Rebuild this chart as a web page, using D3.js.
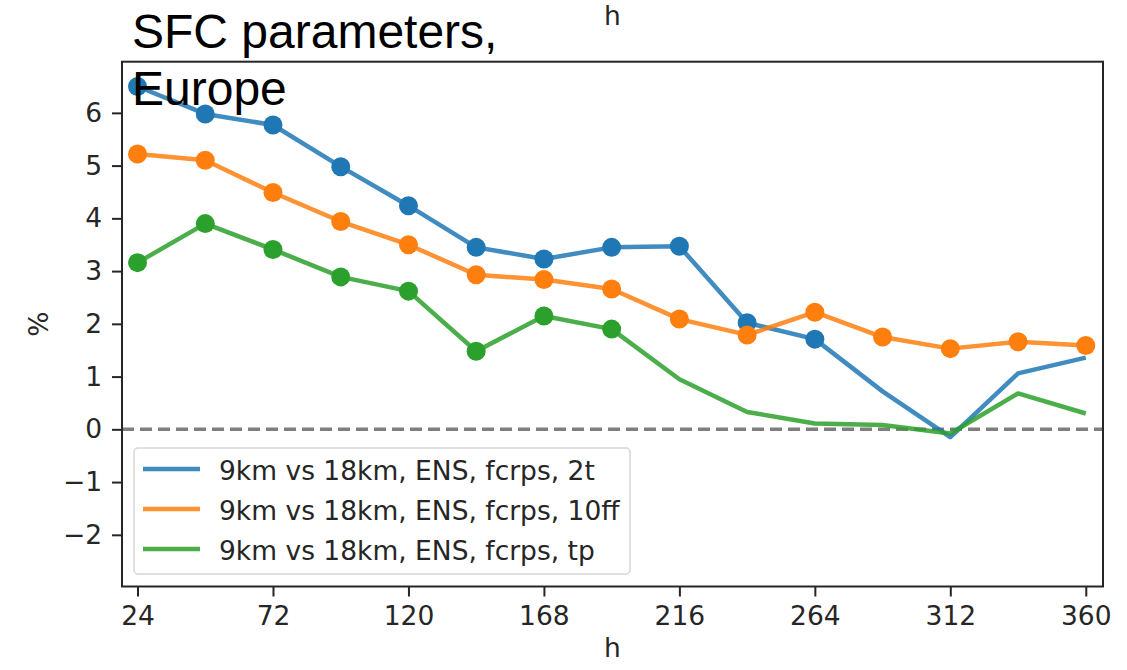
<!DOCTYPE html>
<html>
<head>
<meta charset="utf-8">
<script src="https://cdn.jsdelivr.net/npm/d3@7"></script>
<style>
  html, body { margin: 0; padding: 0; background: #fff; }
  svg { display: block; }
</style>
</head>
<body>
<svg id="chart" width="1127" height="670"></svg>
<script>
// ---- data ----
const hours = [24, 48, 72, 96, 120, 144, 168, 192, 216, 240, 264, 288, 312, 336, 360];
const t2   = [6.50, 5.98, 5.77, 4.98, 4.24, 3.45, 3.23, 3.45, 3.47, 2.02, 1.71, 0.72, -0.15, 1.06, 1.36];
const ff10 = [5.22, 5.10, 4.49, 3.94, 3.50, 2.93, 2.84, 2.66, 2.09, 1.79, 2.22, 1.75, 1.53, 1.66, 1.59];
const tp   = [3.16, 3.90, 3.41, 2.89, 2.62, 1.48, 2.15, 1.90, 0.95, 0.33, 0.11, 0.08, -0.08, 0.68, 0.30];
// markers shown where a point is marked (significant)
const t2Marked   = [1,1,1,1,1,1,1,1,1,1,1,0,0,0,0];
const ff10Marked = [1,1,1,1,1,1,1,1,1,1,1,1,1,1,1];
const tpMarked   = [1,1,1,1,1,1,1,1,0,0,0,0,0,0,0];
const seriesNames = ["9km vs 18km, ENS, fcrps, 2t", "9km vs 18km, ENS, fcrps, 10ff", "9km vs 18km, ENS, fcrps, tp"];
const seriesColors = ["#1f77b4", "#ff7f0e", "#2ca02c"];
const xTicks = [24, 72, 120, 168, 216, 264, 312, 360];
const yTicks = [-2, -1, 0, 1, 2, 3, 4, 5, 6];
const titleLines = ["SFC parameters,", "Europe"];

const series = [
  { name: seriesNames[0], values: t2, marked: t2Marked, color: seriesColors[0] },
  { name: seriesNames[1], values: ff10, marked: ff10Marked, color: seriesColors[1] },
  { name: seriesNames[2], values: tp, marked: tpMarked, color: seriesColors[2] }
];

// ---- layout ----
const L = 122, R = 1103, T = 61.7, B = 586.5;
const svg = d3.select("#chart");
const x = d3.scaleLinear().domain([18.5, 366.1]).range([L, R]);
const y = d3.scaleLinear().domain([-2.98, 6.97]).range([B, T]);
const tickFont = "'DejaVu Sans', sans-serif";
const fs = "26.5px";
const ink = "#262626";

// zero dashed line
svg.append("line")
  .attr("x1", L).attr("x2", R)
  .attr("y1", y(0)).attr("y2", y(0))
  .attr("stroke", "#7f7f7f").attr("stroke-width", 3.5)
  .attr("stroke-dasharray", "12,6");

// series lines and markers
const line = d3.line().x((d, i) => x(hours[i])).y(d => y(d));
const plot = svg.append("g");
series.forEach(s => {
  plot.append("path")
    .datum(s.values)
    .attr("d", line)
    .attr("fill", "none")
    .attr("stroke", s.color)
    .attr("stroke-opacity", 0.85)
    .attr("stroke-width", 4.5)
    .attr("stroke-linejoin", "round");
});
series.forEach(s => {
  plot.selectAll(null)
    .data(s.values.map((v, i) => ({ h: hours[i], v, m: s.marked[i] })).filter(d => d.m))
    .enter().append("circle")
    .attr("cx", d => x(d.h)).attr("cy", d => y(d.v))
    .attr("r", 9.5)
    .attr("fill", s.color);
});

// axes
const xAxis = svg.append("g")
  .attr("transform", `translate(0,${B})`)
  .call(d3.axisBottom(x).tickValues(xTicks).tickSize(10).tickPadding(10).tickSizeOuter(0));
const yAxis = svg.append("g")
  .attr("transform", `translate(${L},0)`)
  .call(d3.axisLeft(y).tickValues(yTicks).tickSize(10).tickPadding(10).tickSizeOuter(0)
    .tickFormat(d => d < 0 ? "\u2212" + Math.abs(d) : d));
[xAxis, yAxis].forEach(a => {
  a.select(".domain").remove();
  a.selectAll(".tick line").attr("stroke", ink).attr("stroke-width", 2);
  a.selectAll(".tick text").attr("fill", ink).style("font-family", tickFont).style("font-size", fs);
});

// frame
svg.append("rect")
  .attr("x", L).attr("y", T).attr("width", R - L).attr("height", B - T)
  .attr("fill", "none").attr("stroke", ink).attr("stroke-width", 2);

// axis labels
svg.append("text")
  .attr("x", (L + R) / 2).attr("y", 657)
  .attr("text-anchor", "middle")
  .style("font-family", tickFont).style("font-size", fs).attr("fill", ink)
  .text("h");
svg.append("text")
  .attr("x", (L + R) / 2).attr("y", 25)
  .attr("text-anchor", "middle")
  .style("font-family", tickFont).style("font-size", fs).attr("fill", ink)
  .text("h");
svg.append("text")
  .attr("transform", `translate(48,${(T + B) / 2}) rotate(-90)`)
  .attr("text-anchor", "middle")
  .style("font-family", tickFont).style("font-size", fs).attr("fill", ink)
  .text("%");

// legend
const lg = svg.append("g");
lg.append("rect")
  .attr("x", 134).attr("y", 448).attr("width", 496).attr("height", 126)
  .attr("rx", 4).attr("ry", 4)
  .attr("fill", "#fff").attr("fill-opacity", 0.85)
  .attr("stroke", "#d6d6d6").attr("stroke-width", 1.5);
series.forEach((s, i) => {
  const cy = 469 + i * 40;
  lg.append("line")
    .attr("x1", 143).attr("x2", 200).attr("y1", cy).attr("y2", cy)
    .attr("stroke", s.color).attr("stroke-opacity", 0.85).attr("stroke-width", 4.5);
  lg.append("text")
    .attr("x", 219).attr("y", cy + 11)
    .style("font-family", tickFont).style("font-size", fs).attr("fill", ink)
    .text(s.name);
});

// title (overlaid, black, large)
const title = svg.append("text")
  .style("font-family", "'Liberation Sans', Arial, sans-serif")
  .style("font-size", "48px").attr("fill", "#000");
titleLines.forEach((t, i) => {
  title.append("tspan").attr("x", 132).attr("y", 48 + i * 57).text(t);
});
</script>
</body>
</html>
